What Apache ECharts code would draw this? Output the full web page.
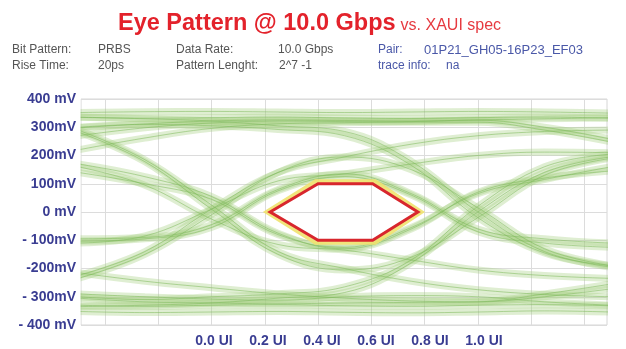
<!DOCTYPE html>
<html>
<head>
<meta charset="utf-8">
<script src="https://cdn.jsdelivr.net/npm/echarts@6/dist/echarts.min.js"></script>
<style>
  html, body { margin: 0; padding: 0; background: #ffffff; }
  #chart { width: 626px; height: 349px; }
</style>
</head>
<body>
<div id="chart"></div>
<script>
// Sample instants across the two-UI window (unit intervals)
const sampleUI = [-0.5, -0.25, 0, 0.25, 0.5, 0.75, 1, 1.25, 1.5];

// Captured waveform traces, voltage in mV at each sample instant
// steady high runs
const highRunA = [352, 355, 356, 354, 352, 354, 356, 354, 350];
const highRunB = [336, 332, 334, 336, 333, 331, 334, 336, 332];
const highRunC = [298, 312, 322, 326, 324, 322, 325, 300, 258];
const highRunD = [270, 298, 315, 322, 320, 318, 318, 290, 248];
const highRunE = [220, 262, 296, 312, 316, 320, 326, 330, 334];
// steady low runs
const lowRunA = [-352, -356, -354, -352, -355, -357, -354, -350, -354];
const lowRunB = [-330, -334, -330, -328, -332, -334, -330, -328, -332];
const lowRunC = [-305, -318, -322, -325, -322, -320, -318, -290, -255];
const lowRunD = [-215, -245, -268, -290, -305, -315, -318, -300, -272];
const lowRunE = [-290, -300, -308, -312, -300, -296, -300, -318, -330];
// falling edge at 0 UI
const fallA = [283, 178, 10, -150, -205, -160, -20, 130, 190];
const fallB = [290, 185, 25, -140, -200, -245, -275, -292, -300];
const fallC = [170, 125, 55, -75, -130, -60, 70, 120, 145];
const fallD = [160, 95, -25, -115, -135, -170, -205, -225, -235];
const fallE = [140, 100, 45, -80, -125, -55, 65, 115, 160];
// rising edge at 0 UI
const riseA = [-235, -150, -10, 140, 195, 150, 15, -130, -190];
const riseB = [-225, -140, 10, 140, 195, 240, 270, 285, 290];
const riseC = [-103, -95, -55, 75, 125, 60, -70, -110, -125];
const riseD = [-110, -85, 10, 110, 135, 170, 200, 212, 210];
const riseE = [-95, -90, -45, 80, 135, 65, -60, -95, -110];
// edges at 1 UI only
const lateFallA = [335, 330, 322, 305, 285, 180, 0, -140, -195];
const lateFallB = [300, 310, 305, 292, 270, 165, -20, -145, -190];
const lateRiseA = [-335, -330, -322, -305, -285, -180, 0, 140, 195];
const lateRiseB = [-300, -310, -300, -290, -265, -170, 20, 160, 205];

const traces = [
  highRunA, highRunB, highRunC, highRunD, highRunE,
  lowRunA, lowRunB, lowRunC, lowRunD, lowRunE,
  fallA, fallB, fallC, fallD, fallE,
  riseA, riseB, riseC, riseD, riseE,
  lateFallA, lateFallB, lateRiseA, lateRiseB
];

// XAUI eye mask vertices (UI, mV)
const maskUI = [0.22, 0.40, 0.605, 0.775, 0.605, 0.40];
const maskMV = [0, 100, 100, 0, -100, -100];

// Axis ticks and labels
const gridUI = [-0.4, -0.2, 0, 0.2, 0.4, 0.6, 0.8, 1.0, 1.2, 1.4];
const xTickValues = [0, 0.2, 0.4, 0.6, 0.8, 1.0];
const xTickLabels = ['0.0 UI', '0.2 UI', '0.4 UI', '0.6 UI', '0.8 UI', '1.0 UI'];
const yTickValues = [-400, -300, -200, -100, 0, 100, 200, 300, 400];
const yTickLabels = ['- 400 mV', '- 300mV', '-200mV', '- 100mV', '0 mV', '100mV', '200mV', '300mV', '400 mV'];

const zip = (xs, ys) => xs.map((x, i) => [x, ys[i]]);
const font = '"Liberation Sans", Arial, sans-serif';

const series = [];
traces.forEach(tr => {
  const data = zip(sampleUI, tr);
  series.push({
    type: 'line', data, smooth: 0.4, symbol: 'none', silent: true,
    lineStyle: { color: 'rgba(165, 208, 130, 0.36)', width: 7 }, z: 2
  });
  series.push({
    type: 'line', data, smooth: 0.4, symbol: 'none', silent: true,
    lineStyle: { color: 'rgba(128, 186, 92, 0.55)', width: 1 }, z: 3
  });
});

// Mask outline with a pale yellow margin just outside it
series.push({
  type: 'custom', silent: true, z: 5,
  data: [[0.5, 0]],
  renderItem: (params, api) => {
    const pts = maskUI.map((x, i) => api.coord([x, maskMV[i]]));
    const cx = pts.reduce((s, p) => s + p[0], 0) / pts.length;
    const cy = pts.reduce((s, p) => s + p[1], 0) / pts.length;
    const halo = pts.map(p => {
      const dx = p[0] - cx, dy = p[1] - cy, d = Math.hypot(dx, dy);
      return [p[0] + dx / d * 3.5, p[1] + dy / d * 3.5];
    });
    return {
      type: 'group',
      children: [
        { type: 'polygon', shape: { points: halo },
          style: { fill: 'none', stroke: 'rgba(240, 226, 110, 0.9)', lineWidth: 4, lineJoin: 'miter' } },
        { type: 'polygon', shape: { points: pts },
          style: { fill: 'none', stroke: '#d8262d', lineWidth: 3, lineJoin: 'miter' } }
      ]
    };
  }
});

const grey = '#555555';
const blue = '#4a58a8';
const info = (x, y, text, color, size) => ({
  type: 'text', x, y,
  style: { text, font: (size || 12) + 'px ' + font, fill: color, verticalAlign: 'middle' }
});

const chart = echarts.init(document.getElementById('chart'), null, { renderer: 'canvas' });
chart.setOption({
  animation: false,
  backgroundColor: '#ffffff',
  title: {
    text: '{main|Eye Pattern @ 10.0 Gbps} {sub|vs. XAUI spec}',
    left: 113, top: 7,
    textStyle: {
      rich: {
        main: { fontFamily: font, fontWeight: 'bold', fontSize: 23.5, color: '#e3222b' },
        sub: { fontFamily: font, fontWeight: 'normal', fontSize: 16, color: '#e63a40', padding: [4, 0, 0, 0] }
      }
    }
  },
  graphic: [
    info(12, 50, 'Bit Pattern:', grey), info(98, 50, 'PRBS', grey),
    info(176, 50, 'Data Rate:', grey), info(278, 50, '10.0 Gbps', grey),
    info(378, 50, 'Pair:', blue), info(424, 50, '01P21_GH05-16P23_EF03', blue, 13),
    info(12, 66, 'Rise Time:', grey), info(98, 66, '20ps', grey),
    info(176, 66, 'Pattern Lenght:', grey), info(279, 66, '2^7 -1', grey),
    info(378, 66, 'trace info:', blue), info(446, 66, 'na', blue),
    // keep the wide trace strokes inside the plot frame
    { type: 'rect', z: 100, shape: { x: 608, y: 90, width: 18, height: 245 }, style: { fill: '#ffffff' } },
    { type: 'rect', z: 100, shape: { x: 77, y: 90, width: 3.5, height: 245 }, style: { fill: '#ffffff' } }
  ],
  grid: {
    left: 81, right: 19, top: 99, bottom: 24,
    show: true, borderColor: '#d6d6d6', borderWidth: 1, backgroundColor: '#ffffff'
  },
  xAxis: [
    {
      // time axis carrying the traces and the vertical grid
      type: 'value', min: -0.49, max: 1.485, position: 'bottom',
      axisLine: { show: false },
      axisTick: { show: false, customValues: gridUI },
      splitLine: { show: true, lineStyle: { color: '#dcdcdc', width: 1 } },
      axisLabel: { show: false }
    },
    {
      // label row under the plot
      type: 'value', min: -0.4926, max: 1.4556, position: 'bottom', offset: 0,
      axisLine: { show: false }, axisTick: { show: false }, splitLine: { show: false },
      axisLabel: {
        customValues: xTickValues,
        formatter: v => xTickLabels[xTickValues.indexOf(v)] || '',
        color: '#3a3d92', fontWeight: 'bold', fontSize: 14,
        fontFamily: font, margin: 9
      }
    }
  ],
  yAxis: {
    type: 'value', min: -400, max: 400, interval: 100,
    axisLine: { show: false }, axisTick: { show: false },
    splitLine: { show: true, lineStyle: { color: '#dcdcdc', width: 1 } },
    axisLabel: {
      formatter: v => yTickLabels[yTickValues.indexOf(v)] || '',
      color: '#3a3d92', fontWeight: 'bold', fontSize: 14,
      fontFamily: font, margin: 5,
      padding: [4, 0, 0, 0]
    }
  },
  series
});
</script>
</body>
</html>
